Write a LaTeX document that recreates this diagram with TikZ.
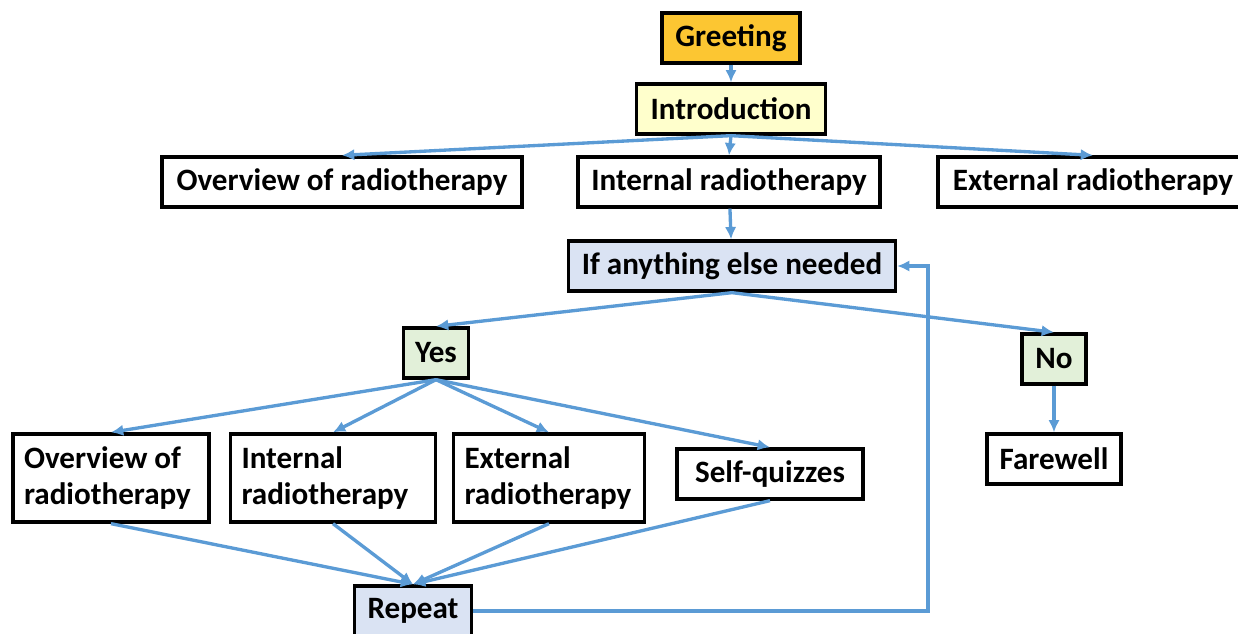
\documentclass[tikz,border=0pt]{standalone}
\usepackage{fontspec}
\setmainfont{Carlito}
\usetikzlibrary{arrows.meta}
\definecolor{gold}{RGB}{252,198,50}
\definecolor{paleyellow}{RGB}{255,255,204}
\definecolor{paleblue}{RGB}{218,227,243}
\definecolor{palegreen}{RGB}{226,240,217}
\definecolor{linkblue}{RGB}{91,155,213}
\begin{document}
\begin{tikzpicture}[x=0.02cm,y=-0.02cm,
    box/.style={rectangle,draw,line width=1.9pt,minimum height=1cm,inner xsep=0.22cm,
      font=\fontsize{17.7}{20.4}\selectfont\bfseries},
    twoline/.style={box,align=flush left,minimum height=1.76cm},
    flow/.style={-{Latex[length=7pt,width=6.5pt]},line width=1.9pt,linkblue}]
      \useasboundingbox (0,0) rectangle (1238,634);
      % top part
      \node[box,fill=gold,minimum width=2.76cm] (greet) at (731,38) {Greeting};
      \node[box,fill=paleyellow,minimum width=3.78cm] (intro) at (731,109) {Introduction};
      \node[box,minimum width=7.2cm] (overview) at (342,182) {Overview of radiotherapy};
      \node[box,minimum width=6.04cm] (internal) at (729,182) {Internal radiotherapy};
      \node[box,minimum width=6.2cm] (external) at (1093,182) {External radiotherapy};
      \node[box,fill=paleblue,minimum width=6.54cm] (ifelse) at (732,266) {If anything else needed};
      \node[box,fill=palegreen,minimum width=1.3cm] (yes) at (436,353) {Yes};
      \node[box,fill=palegreen,minimum width=1.28cm] (no) at (1054,359) {No};
      \node[box,minimum width=2.68cm] (farewell) at (1054,459) {Farewell};
      % choices after yes
      \node[twoline,text width=3.48cm] (overviewB) at (111,478) {Overview of\\radiotherapy};
      \node[twoline,text width=3.66cm] (internalB) at (333,478) {Internal\\radiotherapy};
      \node[twoline,text width=3.38cm] (externalB) at (549,478) {External\\radiotherapy};
      \node[box,minimum width=3.72cm] (quiz) at (770,474) {Self-quizzes};
      \node[box,fill=paleblue,minimum width=2.34cm] (repeat) at (413,611) {Repeat};
      \coordinate (loop) at (928,266);
      % connectors
      \draw[flow] (greet) -- (intro);
      \draw[flow] (intro.south) -- (overview.north);
      \draw[flow] (intro.south) -- (internal.north);
      \draw[flow] (intro.south) -- (external.north);
      \draw[flow] (internal) -- (ifelse);
      \draw[flow] (ifelse.south) -- (yes.north);
      \draw[flow] (ifelse.south) -- (no.north);
      \draw[flow] (no) -- (farewell);
      \draw[flow] (yes.south) -- (overviewB.north);
      \draw[flow] (yes.south) -- (internalB.north);
      \draw[flow] (yes.south) -- (externalB.north);
      \draw[flow] (yes.south) -- (quiz.north);
      \draw[flow] (overviewB.south) -- (repeat.north);
      \draw[flow] (internalB.south) -- (repeat.north);
      \draw[flow] (externalB.south) -- (repeat.north);
      \draw[flow] (quiz.south) -- (repeat.north);
      \draw[flow] (repeat.east) -| (loop) -- (ifelse.east);
    \end{tikzpicture}
\end{document}
